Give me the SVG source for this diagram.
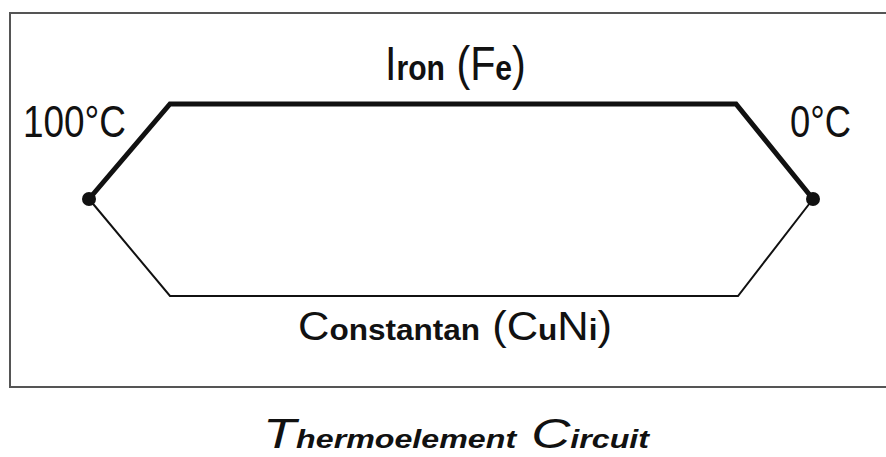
<svg xmlns="http://www.w3.org/2000/svg" width="886" height="457" viewBox="0 0 886 457">
<style>
.t{font-family:"Liberation Sans",Arial,sans-serif;fill:#111}
.lc{font-weight:bold}
.wire{fill:none;stroke:#111;stroke-linejoin:miter;stroke-linecap:butt}
</style>
<rect x="0" y="0" width="886" height="457" fill="#fff"/>
<rect id="frame" x="10" y="13" width="890" height="374" fill="none" stroke="#555" stroke-width="2"/>
<g id="connectors">
<polyline class="wire" stroke-width="5" points="89,199 170,104 736,104 813,199"/>
<polyline class="wire" stroke-width="2" points="89,199 170,296 738,296 813,199"/>
</g>
<g id="hot-junction">
<circle cx="89" cy="199" r="7" fill="#111"/>
<text class="t" x="23" y="137" font-size="45" textLength="103" lengthAdjust="spacingAndGlyphs">100°C</text>
</g>
<g id="cold-junction">
<circle cx="813" cy="199" r="7" fill="#111"/>
<text class="t" x="790" y="137" font-size="45" textLength="61" lengthAdjust="spacingAndGlyphs">0°C</text>
</g>
<g id="iron">
<text class="t" transform="translate(385,80) scale(0.86,1)" x="0" y="0" font-size="48">I<tspan class="lc" font-size="35">ron</tspan> (F<tspan class="lc" font-size="35">e</tspan>)</text>
</g>
<g id="constantan">
<text class="t" x="298" y="340" font-size="40" textLength="314" lengthAdjust="spacingAndGlyphs">C<tspan class="lc" font-size="29">onstantan</tspan> (C<tspan class="lc" font-size="29">u</tspan>N<tspan class="lc" font-size="29">i</tspan>)</text>
</g>
<g id="title">
<text class="t" x="263" y="448" font-size="42" font-style="italic" textLength="386" lengthAdjust="spacingAndGlyphs">T<tspan class="lc" font-size="25">hermoelement</tspan> C<tspan class="lc" font-size="25">ircuit</tspan></text>
</g>
</svg>
